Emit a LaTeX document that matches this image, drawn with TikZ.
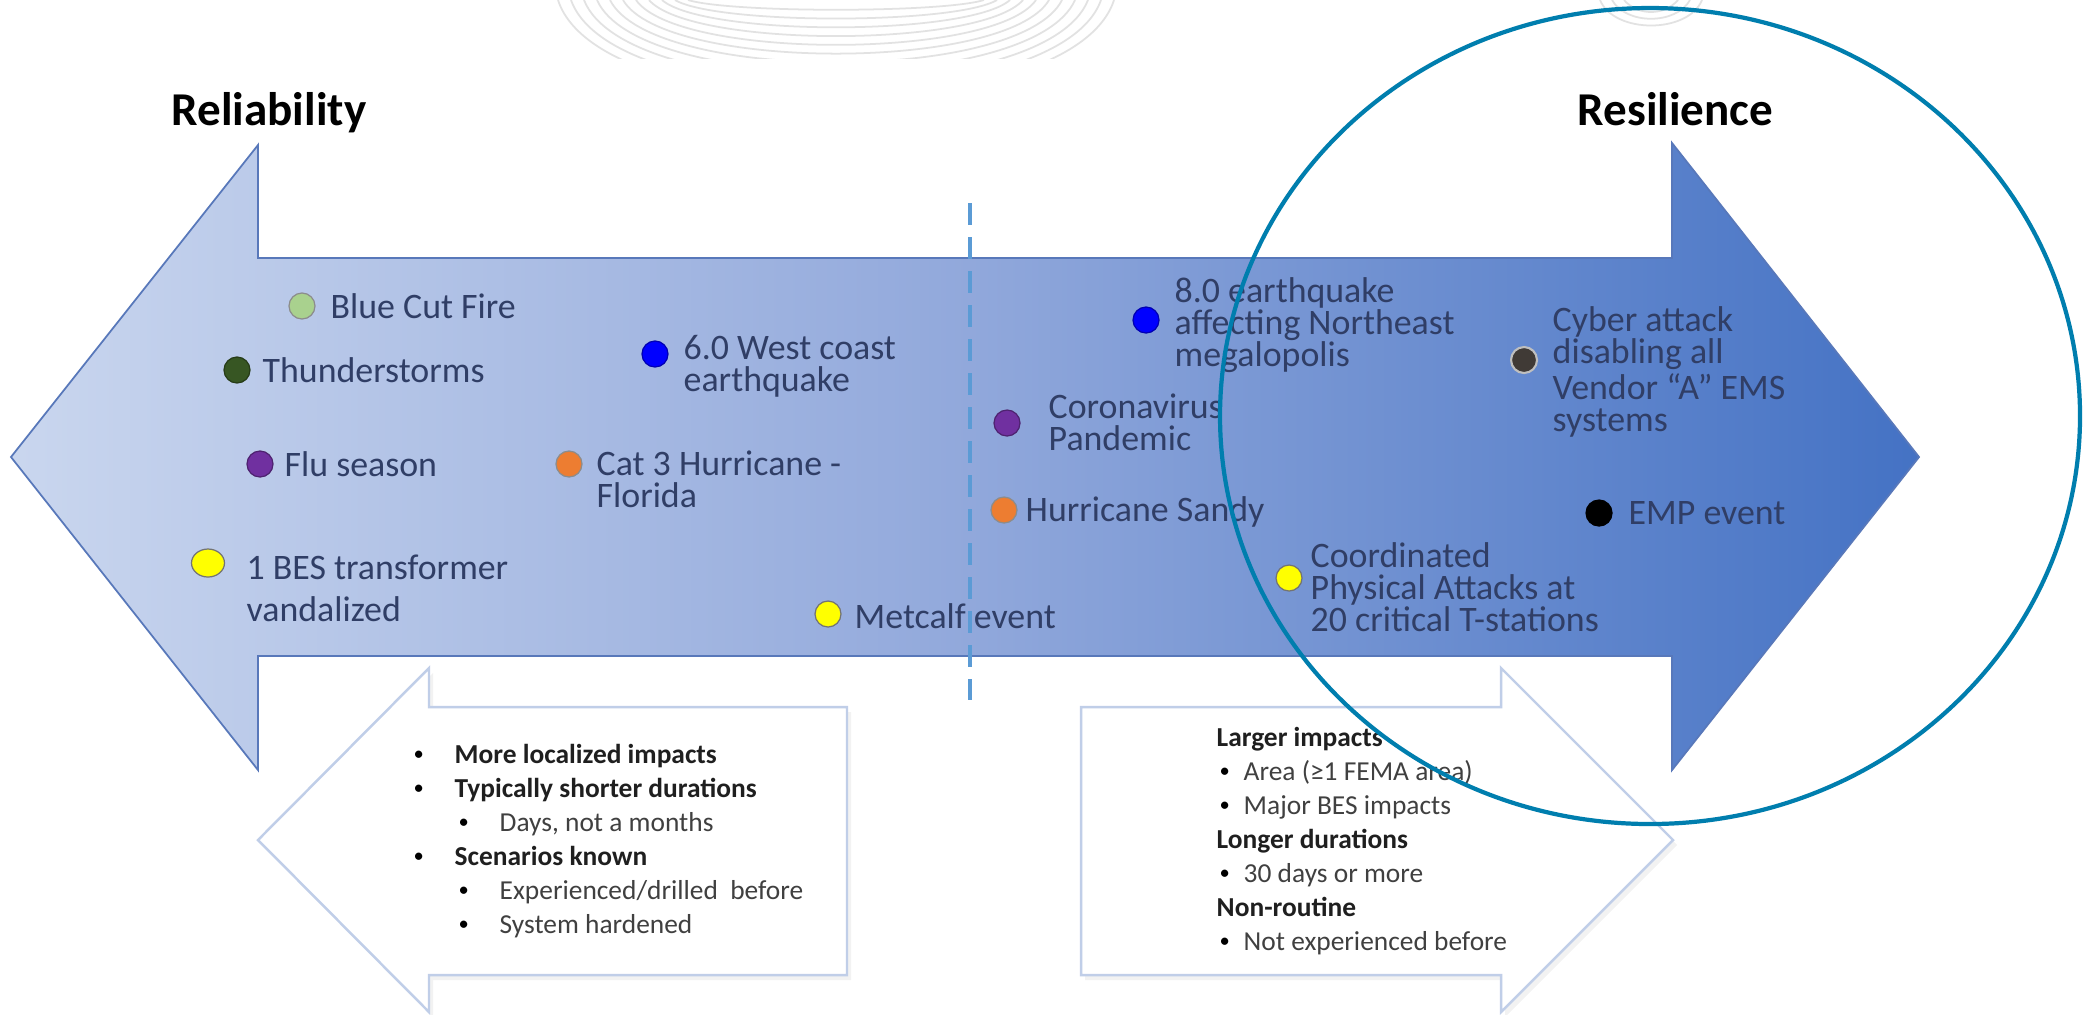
\documentclass[tikz,border=0pt]{standalone}
\usepackage{fontspec}
\setmainfont{Carlito}
\usepackage{xcolor}
\usepackage{graphicx}
\usepackage{tikz}
\usetikzlibrary{positioning}
\usetikzlibrary{shapes.geometric,shadows}

\definecolor{arrowline}{RGB}{88,120,186}
\definecolor{labeltext}{RGB}{48,62,102}
\definecolor{boxline}{RGB}{192,206,232}
\definecolor{boxgray}{RGB}{64,64,64}
\definecolor{ringblue}{RGB}{0,126,174}
\definecolor{dashblue}{RGB}{91,155,213}
\definecolor{markgray}{RGB}{226,226,226}
\definecolor{firegreen}{RGB}{169,209,142}
\definecolor{stormgreen}{RGB}{55,86,35}
\definecolor{flupurple}{RGB}{112,48,160}
\definecolor{vandyellow}{RGB}{255,255,0}
\definecolor{quakeblue}{RGB}{0,0,255}
\definecolor{hurrorange}{RGB}{237,125,49}
\definecolor{cybergray}{RGB}{64,58,54}

\pgfdeclarehorizontalshading{mainshade}{100bp}{rgb(0bp)=(0.79,0.84,0.935); rgb(25bp)=(0.79,0.84,0.935); rgb(50bp)=(0.57,0.66,0.86); rgb(75bp)=(0.267,0.447,0.769); rgb(100bp)=(0.267,0.447,0.769)}

\newcommand{\dotmark}{\raisebox{0.25ex}{\scalebox{0.75}{\color{black}•}}}
\newcommand{\mainpt}[1]{\makebox[4.1mm][l]{\dotmark}\textbf{\color{black!88}#1}}
\newcommand{\subpt}[1]{\hspace*{4.5mm}\makebox[4.1mm][l]{\dotmark}#1}
\newcommand{\rightpt}[1]{\hspace*{0.3mm}\makebox[2.4mm][l]{\dotmark}#1}

\tikzset{
  mainarrow/.style={shade, shading=mainshade, draw=arrowline, line width=0.5pt},
  infobox/.style={draw=boxline, fill=white, line width=0.7pt,
    drop shadow={opacity=0.10, shadow xshift=0.4mm, shadow yshift=-0.5mm}},
  divider/.style={draw=dashblue, line width=1.1pt, dash pattern=on 2.2mm off 1.2mm},
  ring/.style={draw=ringblue, line width=1.2pt},
  evdot/.style={circle, fill=#1, draw=#1!70!black, line width=0.35pt, minimum size=2.6mm, inner sep=0pt},
  evlabel/.style={anchor=west, align=left, inner sep=0pt, text=labeltext, font=\fontsize{10.2}{9.1}\selectfont},
  headline/.style={anchor=base west, inner sep=0pt, font=\fontsize{13.4}{16}\selectfont\bfseries},
  boxtext/.style={anchor=north west, align=left, inner sep=0pt, text=boxgray, font=\fontsize{7.8}{9.65}\selectfont}
}

\begin{document}
\begin{tikzpicture}[x=0.1mm, y=-0.1mm]
  \useasboundingbox (0,0) rectangle (2092,1014);
  \fill[white] (0,0) rectangle (2092,1014);

  % faint watermark at the top
  \begin{scope}[markgray, line width=0.5pt]
    \clip (540,0) rectangle (1130,58);
    \foreach \k in {0,...,10}
      \draw ({558+13*\k},0) .. controls ({600+13*\k},{1.3*(100-9*\k)}) and ({1072-13*\k},{1.3*(100-9*\k)}) .. ({1114-13*\k},0);
  \end{scope}
  \foreach \k in {0,1,2}
    \draw[markgray, line width=0.5pt] ({1600+12*\k},0) .. controls ({1614+12*\k},{34-9*\k}) and ({1688-12*\k},{34-9*\k}) .. ({1702-12*\k},0);

  % double arrow
  \path[mainarrow] (11,457) -- (258,145) -- (258,258) -- (1672,258) -- (1672,143) -- (1919,457)
    -- (1672,770) -- (1672,656) -- (258,656) -- (258,770) -- cycle;

  % divider
  \coordinate (divtop) at (970,203);
  \coordinate (divbot) at (970,700);
  \draw[divider] (divtop) -- (divbot);

  % lower boxes
  \draw[infobox] (258,840) -- (429,668) -- (429,707) -- (847,707) -- (847,975) -- (429,975) -- (429,1012) -- cycle;
  \draw[infobox] (1081,707) -- (1501,707) -- (1501,668) -- (1673,840) -- (1501,1012) -- (1501,975) -- (1081,975) -- cycle;

  \node[headline] (reliab) at (171,125) {Reliability};
  \node[headline] (resil) at (1577,125) {Resilience};

  % events
  \node[evdot=firegreen, draw=black!45] (dfire) at (302,306) {};
  \node[evlabel] (lfire) at (330,306) {Blue Cut Fire};
  \node[evdot=stormgreen] (dstorm) at (237,370) {};
  \node[evlabel] (lstorm) at (262,370) {Thunderstorms};
  \node[evdot=flupurple] (dflu) at (260,464) {};
  \node[evlabel] (lflu) at (284,464) {Flu season};
  \node[evdot=vandyellow, draw=black!55, ellipse, minimum width=3.3mm, minimum height=2.8mm] (dvand) at (208,563) {};
  \node[evlabel, font=\fontsize{10.2}{12}\selectfont] (lvand) at (246,588) {1 BES transformer\\vandalized};
  \node[evdot=quakeblue] (dwest) at (655,354) {};
  \node[evlabel] (lwest) at (683,366) {6.0 West coast\\earthquake};
  \node[evdot=hurrorange, draw=black!45] (dflor) at (569,464) {};
  \node[evlabel] (lflor) at (596,479) {Cat 3 Hurricane -\\Florida};
  \node[evdot=vandyellow, draw=black!55] (dmetc) at (828,614) {};
  \node[evlabel] (lmetc) at (854,616) {Metcalf event};
  \node[evdot=quakeblue] (deast) at (1146,320) {};
  \node[evlabel] (least) at (1174,325) {8.0 earthquake\\affecting Northeast\\megalopolis};
  \node[evdot=flupurple] (dcorona) at (1007,423) {};
  \node[evlabel] (lcorona) at (1048,422) {Coronavirus\\Pandemic};
  \node[evdot=hurrorange, draw=black!45] (dsandy) at (1004,510) {};
  \node[evlabel] (lsandy) at (1025,512) {Hurricane Sandy};
  \node[evdot=cybergray, draw=black!25, line width=0.6pt] (dcyber) at (1524,360) {};
  \node[evlabel] (lcyber) at (1552,372) {Cyber attack\\disabling all\\Vendor “A” EMS\\systems};
  \node[evdot=black] (demp) at (1599,513) {};
  \node[evlabel] (lemp) at (1628,513) {EMP event};
  \node[evdot=vandyellow, draw=black!55] (dcoord) at (1289,578) {};
  \node[evlabel] (lcoord) at (1310,587) {Coordinated\\Physical Attacks at\\20 critical T-stations};

  % box texts
  \node[boxtext] (tleft) at (413,744) {\mainpt{More localized impacts}\\
    \mainpt{Typically shorter durations}\\
    \subpt{Days, not a months}\\
    \mainpt{Scenarios known}\\
    \subpt{Experienced/drilled\ \ before}\\
    \subpt{System hardened}};
  \node[boxtext] (tright) at (1216,727) {\textbf{\color{black!88}Larger impacts}\\
    \rightpt{Area (≥1 FEMA area)}\\
    \rightpt{Major BES impacts}\\
    \textbf{\color{black!88}Longer durations}\\
    \rightpt{30 days or more}\\
    \textbf{\color{black!88}Non-routine}\\
    \rightpt{Not experienced before}};

  % highlight ring
  \draw[ring] (1650,416) ellipse [x radius=43mm, y radius=40.8mm];
\end{tikzpicture}
\end{document}
